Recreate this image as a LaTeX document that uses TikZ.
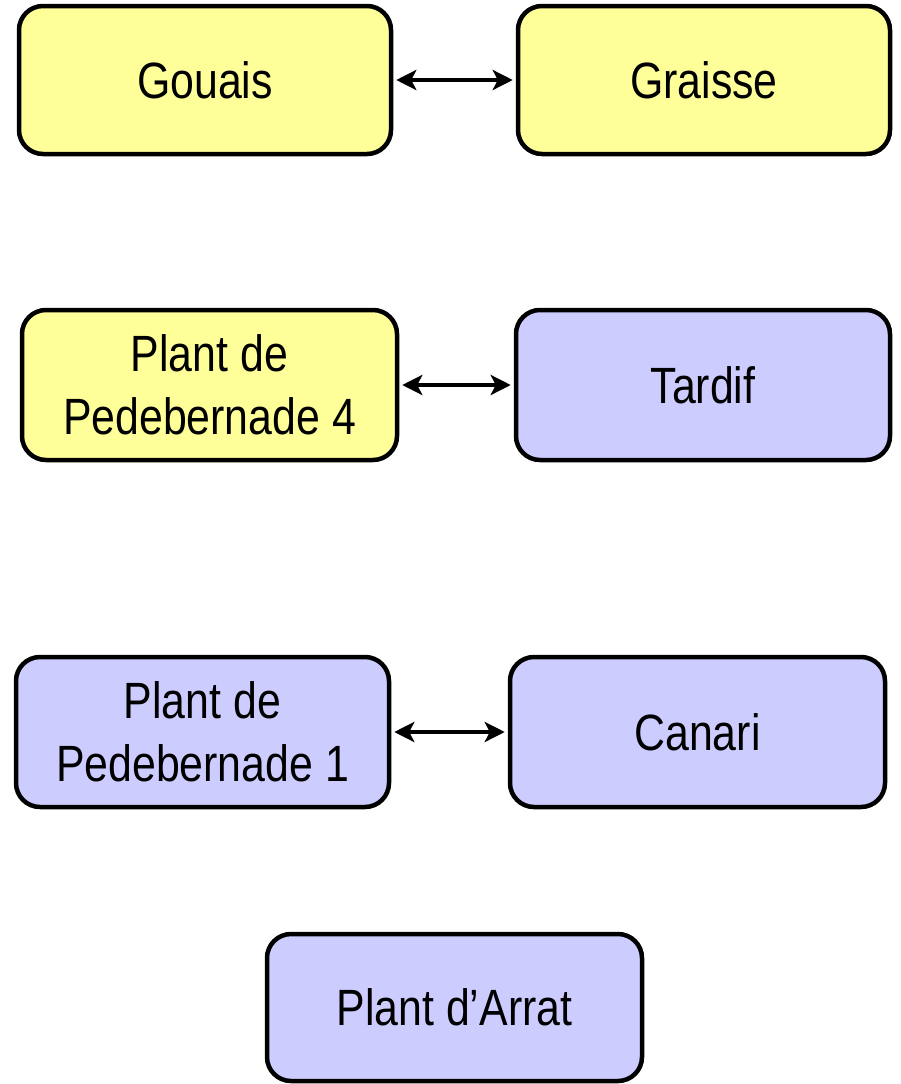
\documentclass[tikz,border=0pt]{standalone}
\usepackage{fontspec}
\setmainfont[FakeStretch=0.84]{Liberation Sans}
\usetikzlibrary{arrows.meta}
\definecolor{yel}{HTML}{FFFF99}
\definecolor{lav}{HTML}{CCCCFF}
\begin{document}
\begin{tikzpicture}[x=1pt,y=-1pt,
  box/.style={draw=black,line width=4.5pt,rounded corners=24pt,minimum width=372pt,minimum height=148pt,align=center,font=\fontsize{51}{63}\selectfont,inner sep=0pt},
  ybox/.style={box,fill=yel},
  lbox/.style={box,fill=lav},
  link/.style={line width=4.5pt,{Stealth[length=20pt,width=20pt,inset=5pt]}-{Stealth[length=20pt,width=20pt,inset=5pt]},shorten <=3pt,shorten >=3pt}]
\useasboundingbox (0,0) rectangle (900,1084);
\node[ybox] (gouais) at (205,80) {Gouais};
\node[ybox] (graisse) at (704,80) {Graisse};
\node[ybox,minimum width=375pt,minimum height=150pt] (pp4) at (209.5,385) {Plant de\\Pedebernade 4};
\node[lbox,minimum width=374pt,minimum height=150pt] (tardif) at (703,385) {Tardif};
\node[lbox,minimum width=373pt,minimum height=150pt] (pp1) at (202.5,732) {Plant de\\Pedebernade 1};
\node[lbox,minimum width=375pt,minimum height=150pt] (canari) at (697.5,732) {Canari};
\node[lbox,minimum width=375pt,minimum height=147pt] (arrat) at (454.5,1007.5) {Plant d’Arrat};
\draw[link] (gouais) -- (graisse);
\draw[link] (pp4) -- (tardif);
\draw[link] (pp1) -- (canari);
\end{tikzpicture}
\end{document}
